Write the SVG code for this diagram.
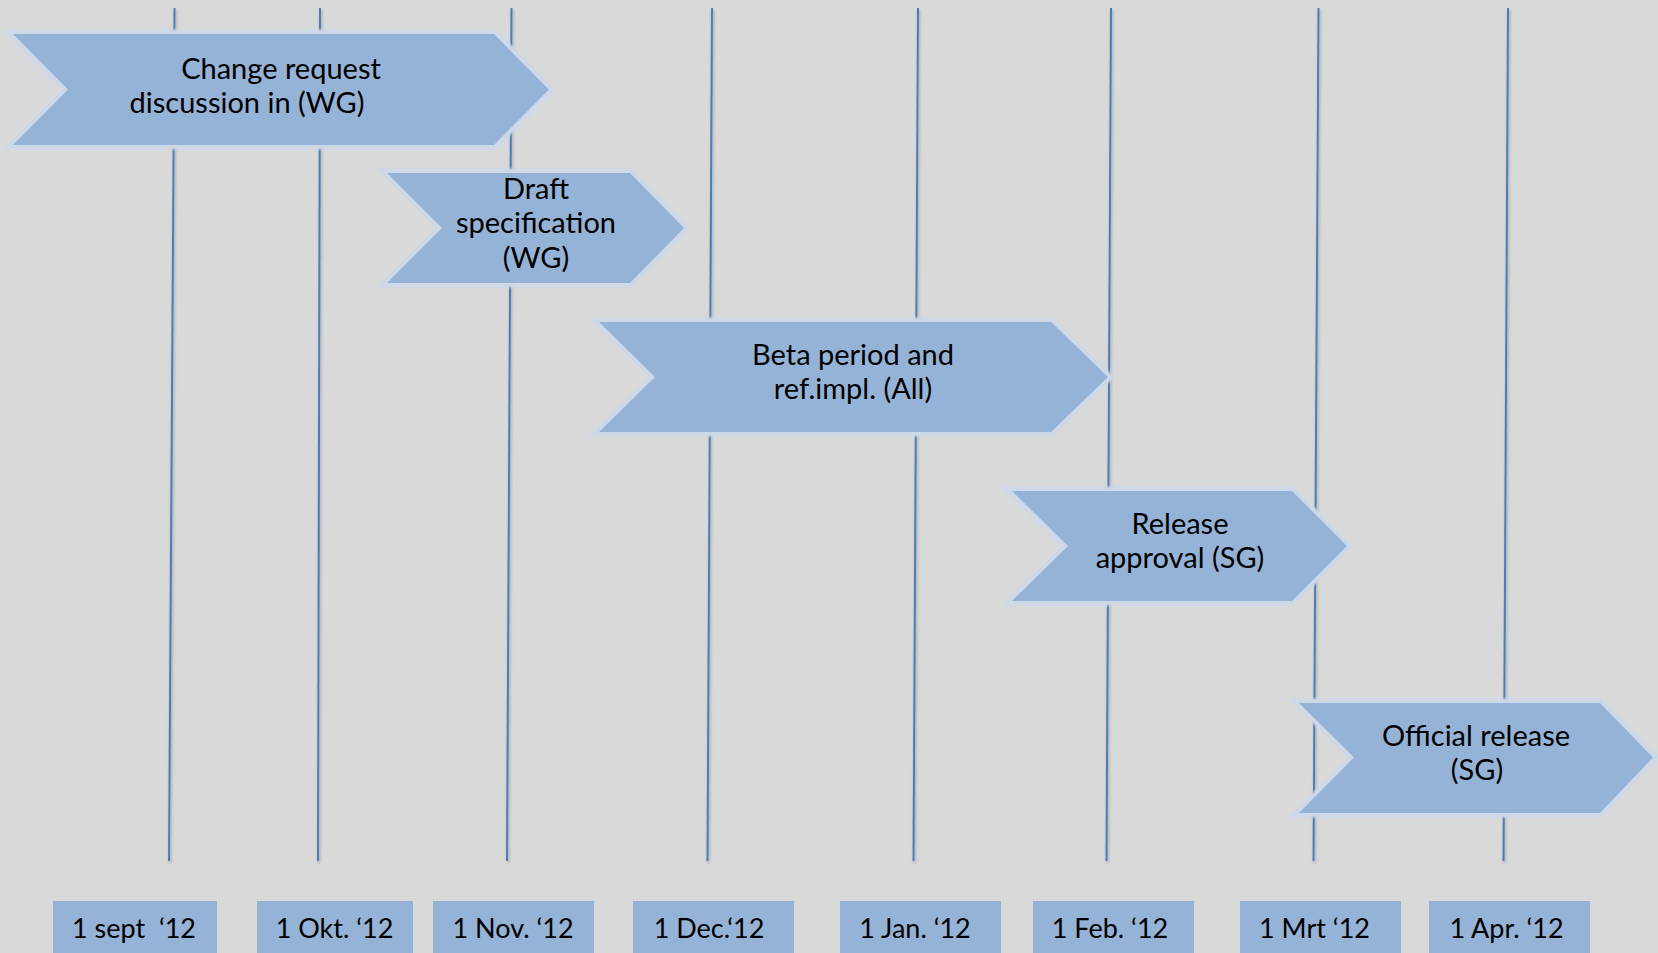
<svg xmlns="http://www.w3.org/2000/svg" width="1658" height="953" viewBox="0 0 1658 953">
<defs>
<filter id="sh" x="-50%" y="-5%" width="200%" height="110%">
<feDropShadow dx="1" dy="2" stdDeviation="1.5" flood-color="#000" flood-opacity="0.25"/>
</filter>
<filter id="glow" x="-5%" y="-10%" width="110%" height="120%">
<feGaussianBlur stdDeviation="0.8"/>
</filter>
</defs>
<style>
.bg{fill:#d9d9d9}
.vline{stroke:#4a7ebb;stroke-width:2;fill:none}
.chev-edge{fill:none;stroke:#cdd8e8;stroke-width:9;stroke-linejoin:miter}
.chev{fill:#95b3d7}
.lbl{font-family:Lato,"Open Sans","Liberation Sans",sans-serif;font-size:29px;fill:#000;text-anchor:middle}
.date{fill:#95b3d7}
.dtxt{font-family:Lato,"Open Sans","Liberation Sans",sans-serif;font-size:27px;fill:#000;text-anchor:middle;white-space:pre}
</style>
<rect class="bg" x="0" y="0" width="1658" height="953"/>
<g id="connectors" filter="url(#sh)">
<line class="vline" x1="174.5" y1="8" x2="169" y2="861"/>
<line class="vline" x1="320" y1="8" x2="318" y2="861"/>
<line class="vline" x1="511.5" y1="8" x2="507" y2="861"/>
<line class="vline" x1="712" y1="8" x2="707.5" y2="861"/>
<line class="vline" x1="918" y1="8" x2="913.5" y2="861"/>
<line class="vline" x1="1111" y1="8" x2="1106.5" y2="861"/>
<line class="vline" x1="1318.5" y1="8" x2="1313.5" y2="861"/>
<line class="vline" x1="1508" y1="8" x2="1503.5" y2="861"/>
</g>
<g id="phase1">
<path class="chev-edge" filter="url(#glow)" d="M13,34 L494,34 L549,89.5 L494,145 L13,145 L68,89.5 Z"/>
<path class="chev" d="M13,34 L494,34 L549,89.5 L494,145 L13,145 L68,89.5 Z"/>
<text class="lbl" x="281" y="79">Change request</text>
<text class="lbl" x="247" y="113">discussion in (WG)</text>
</g>
<g id="phase2">
<path class="chev-edge" filter="url(#glow)" d="M387,173 L630,173 L684,228 L630,283 L387,283 L442,228 Z"/>
<path class="chev" d="M387,173 L630,173 L684,228 L630,283 L387,283 L442,228 Z"/>
<text class="lbl" x="536" y="199">Draft</text>
<text class="lbl" x="536" y="233">specification</text>
<text class="lbl" x="536" y="268">(WG)</text>
</g>
<g id="phase3">
<path class="chev-edge" filter="url(#glow)" d="M599,322 L1051,322 L1108,377 L1051,432 L599,432 L655,377 Z"/>
<path class="chev" d="M599,322 L1051,322 L1108,377 L1051,432 L599,432 L655,377 Z"/>
<text class="lbl" x="853" y="365">Beta period and</text>
<text class="lbl" x="853" y="399">ref.impl. (All)</text>
</g>
<g id="phase4">
<path class="chev-edge" filter="url(#glow)" d="M1012,491 L1292,491 L1347,546 L1292,601 L1012,601 L1068,546 Z"/>
<path class="chev" d="M1012,491 L1292,491 L1347,546 L1292,601 L1012,601 L1068,546 Z"/>
<text class="lbl" x="1180" y="534">Release</text>
<text class="lbl" x="1180" y="568">approval (SG)</text>
</g>
<g id="phase5">
<path class="chev-edge" filter="url(#glow)" d="M1299,703 L1600,703 L1653,757.5 L1600,813 L1299,813 L1354,757.5 Z"/>
<path class="chev" d="M1299,703 L1600,703 L1653,757.5 L1600,813 L1299,813 L1354,757.5 Z"/>
<text class="lbl" x="1476" y="746">Official release</text>
<text class="lbl" x="1477" y="780">(SG)</text>
</g>
<g id="date1"><rect class="date" x="53" y="901" width="164" height="52"/><text class="dtxt" x="134" y="938" xml:space="preserve">1 sept  ‘12</text></g>
<g id="date2"><rect class="date" x="257" y="901" width="156" height="52"/><text class="dtxt" x="334.5" y="938">1 Okt. ‘12</text></g>
<g id="date3"><rect class="date" x="433" y="901" width="161" height="52"/><text class="dtxt" x="513" y="938">1 Nov. ‘12</text></g>
<g id="date4"><rect class="date" x="633" y="901" width="161" height="52"/><text class="dtxt" x="709" y="938">1 Dec.‘12</text></g>
<g id="date5"><rect class="date" x="840" y="901" width="161" height="52"/><text class="dtxt" x="915" y="938">1 Jan. ‘12</text></g>
<g id="date6"><rect class="date" x="1033" y="901" width="161" height="52"/><text class="dtxt" x="1110" y="938">1 Feb. ‘12</text></g>
<g id="date7"><rect class="date" x="1240" y="901" width="161" height="52"/><text class="dtxt" x="1314.5" y="938">1 Mrt ‘12</text></g>
<g id="date8"><rect class="date" x="1429" y="901" width="161" height="52"/><text class="dtxt" x="1506.5" y="938">1 Apr. ‘12</text></g>
</svg>
